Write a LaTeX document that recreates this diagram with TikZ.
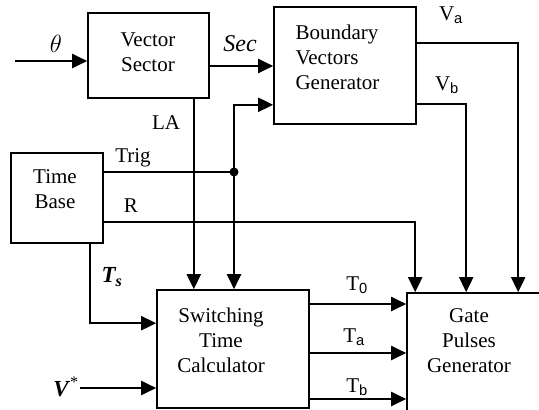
\documentclass[tikz,border=0pt]{standalone}
\usepackage{fontspec}
\setmainfont{Liberation Serif}
\setsansfont{Liberation Sans}
\usetikzlibrary{arrows.meta}
\newcommand{\lsub}[1]{\textsubscript{\sffamily #1}}

\begin{document}
\begin{tikzpicture}[x=1pt, y=-1pt,
    blk/.style={draw, line width=1.6pt, inner sep=0pt},
    txt/.style={align=center, font=\fontsize{21}{25}\selectfont},
    lbl/.style={font=\fontsize{21}{25}\selectfont, inner sep=0pt},
    wire/.style={line width=2pt},
    arr/.style={wire, -{Triangle[length=15pt,width=14pt]}}]
  \useasboundingbox (0,0) rectangle (539,410);
  \clip (0,0) rectangle (539,410);
  % blocks
  \node[blk, minimum width=121pt, minimum height=85pt] (vs) at (148.5,55.5) {};
  \node[blk, minimum width=142pt, minimum height=117pt] (bvg) at (345,65.5) {};
  \node[blk, minimum width=92pt, minimum height=90pt] (tb) at (57,198) {};
  \node[blk, minimum width=152pt, minimum height=118pt] (stc) at (233,349) {};
  \node[blk, minimum width=153pt, minimum height=147pt] (gpg) at (483.5,366.5) {};
  \node[txt] (vstxt) at (148,52) {Vector\\Sector};
  \node[txt, align=left, anchor=west] (bvgtxt) at (292,57) {Boundary\\Vectors\\Generator};
  \node[txt] (tbtxt) at (55,189) {Time\\Base};
  \node[txt] (stctxt) at (221,340) {Switching\\Time\\Calculator};
  \node[txt] (gpgtxt) at (469,341) {Gate\\Pulses\\Generator};
  % labels
  \node[lbl, font=\fontsize{26}{28}\selectfont] (ltheta) at (56,44) {$\theta$};
  \node[lbl, font=\fontsize{24}{28}\selectfont] (lsec) at (240,44) {\textit{Sec}};
  \node[lbl] (lla) at (166,123) {LA};
  \node[lbl] (ltrig) at (133,158) {Trig};
  \node[lbl] (lr) at (131,206) {R};
  \node[lbl, font=\fontsize{23}{25}\selectfont] (lts) at (112,277) {\textbf{\textit{T\textsubscript{s}}}};
  \node[lbl, font=\fontsize{23}{25}\selectfont] (lvs) at (66,387) {\textbf{\textit{V}}\textsuperscript{*}};
  \node[lbl] (lva) at (451,15) {V\lsub{a}};
  \node[lbl] (lvb) at (447,85) {V\lsub{b}};
  \node[lbl] (lt0) at (357,285) {T\lsub{0}};
  \node[lbl] (lta) at (354,337) {T\lsub{a}};
  \node[lbl] (ltb) at (357,387) {T\lsub{b}};
  % connectors
  \coordinate (thin) at (15,61);
  \coordinate (vin) at (80,388);
  \coordinate (trigj) at (234,172);
  \draw[arr] (thin) -- (thin -| vs.west);
  \draw[arr] ([yshift=-10.5pt]vs.east) -- ([yshift=-10.5pt]vs.east -| bvg.west);
  \draw[arr] ([xshift=-16pt]vs.south east) -- ([xshift=-16pt]vs.south east |- stc.north);
  \draw[wire] (tb.east |- trigj) -- (trigj);
  \fill (trigj) circle (4.5pt);
  \draw[arr] (trigj) |- ([yshift=20pt]bvg.south west);
  \draw[arr] (trigj) -- (trigj |- stc.north);
  \draw[arr] ([yshift=-24pt]tb.east) -| ([xshift=9pt]gpg.north west);
  \draw[arr] ([xshift=-14pt]tb.south east) |- ([yshift=-34pt]stc.north west);
  \draw[arr] (vin) -- (vin -| stc.west);
  \draw[arr] ([yshift=22.5pt]bvg.east) -| ([xshift=112pt]gpg.north west);
  \draw[arr] ([yshift=-38.5pt]bvg.east) -| ([xshift=60pt]gpg.north west);
  \draw[arr] ([yshift=45pt]stc.east) -- ([yshift=45pt]stc.east -| gpg.west);
  \draw[arr] ([yshift=-4pt]stc.east) -- ([yshift=-4pt]stc.east -| gpg.west);
  \draw[arr] ([yshift=-50pt]stc.east) -- ([yshift=-50pt]stc.east -| gpg.west);
\end{tikzpicture}
\end{document}
